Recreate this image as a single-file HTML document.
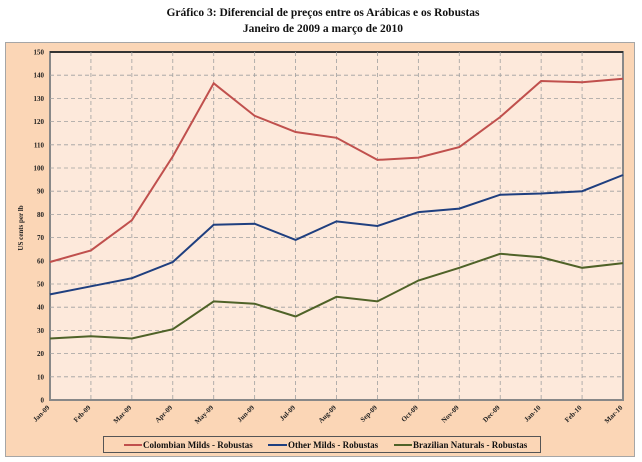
<!DOCTYPE html>
<html><head><meta charset="utf-8"><style>
html,body{margin:0;padding:0;background:#fff;}
svg{display:block;font-family:"Liberation Serif",serif;}
</style></head><body>
<svg width="642" height="462" viewBox="0 0 642 462" xmlns="http://www.w3.org/2000/svg">
<rect width="642" height="462" fill="#fff"/>
<text x="323" y="16" text-anchor="middle" font-size="11.5" font-weight="bold" fill="#111">Gráfico 3:   Diferencial de preços entre os Arábicas e os Robustas</text>
<text x="323" y="32" text-anchor="middle" font-size="11.5" font-weight="bold" fill="#111">Janeiro de 2009 a março de 2010</text>
<rect x="5.5" y="42.5" width="629" height="414" fill="#fbd6b6" stroke="#a6a6a6"/>
<rect x="50" y="52" width="573" height="348" fill="#fde9db" stroke="#888" stroke-width="2"/>
<line x1="50" y1="52" x2="623" y2="52" stroke="#000" stroke-width="1.2"/>
<g id="grid" stroke="#a0a0a0" stroke-width="0.8" stroke-dasharray="4,3"></g>
<g id="ylab" font-size="7" font-weight="bold" text-anchor="end" fill="#222"></g>
<g id="xlab" font-size="7" font-weight="bold" fill="#222"></g>
<text transform="translate(23,228) rotate(-90)" font-size="7" font-weight="bold" text-anchor="middle" fill="#222">US cents per lb</text>
<g id="series" fill="none" stroke-width="2"></g>
<rect x="103.5" y="436.5" width="437" height="16" fill="#fbd6b6" stroke="#555"/>
<line x1="124" y1="445" x2="142" y2="445" stroke="#c0504d" stroke-width="2"/>
<text x="143" y="448" font-size="9" font-weight="bold" fill="#111">Colombian Milds - Robustas</text>
<line x1="268" y1="445" x2="287" y2="445" stroke="#1f3f7f" stroke-width="2"/>
<text x="288" y="448" font-size="9" font-weight="bold" fill="#111">Other Milds - Robustas</text>
<line x1="394" y1="445" x2="412" y2="445" stroke="#4f6228" stroke-width="2"/>
<text x="413" y="448" font-size="9" font-weight="bold" fill="#111">Brazilian Naturals - Robustas</text>
</svg>
<script>
var ns="http://www.w3.org/2000/svg";
function el(t,a,p,txt){var e=document.createElementNS(ns,t);for(var k in a)e.setAttribute(k,a[k]);if(txt!=null)e.textContent=txt;document.getElementById(p).appendChild(e);}
var X=function(i){return 50+i*573/14;},Y=function(v){return 400-v*2.32;};
for(var v=0;v<=150;v+=10){if(v>0&&v<150)el("line",{x1:50,x2:623,y1:Y(v),y2:Y(v)},"grid");el("text",{x:44,y:Y(v)+2.5},"ylab",v);}
var m=["Jan-09","Feb-09","Mar-09","Apr-09","May-09","Jun-09","Jul-09","Aug-09","Sep-09","Oct-09","Nov-09","Dec-09","Jan-10","Feb-10","Mar-10"];
for(var i=0;i<15;i++){if(i>0&&i<14)el("line",{x1:X(i),x2:X(i),y1:52,y2:400},"grid");el("text",{x:X(i),y:408,transform:"rotate(-45 "+X(i)+" 408)","text-anchor":"end"},"xlab",m[i]);}
var S=[["#c0504d",[59.5,64.5,77.5,105,136.5,122.5,115.5,113,103.5,104.5,109,122,137.5,137,138.5]],
["#1f3f7f",[45.5,49,52.5,59.5,75.5,76,69,77,75,81,82.5,88.5,89,90,97]],
["#4f6228",[26.5,27.5,26.5,30.5,42.5,41.5,36,44.5,42.5,51.5,57,63,61.5,57,59]]];
S.forEach(function(s){var p=s[1].map(function(v,i){return X(i).toFixed(1)+","+Y(v).toFixed(1);}).join(" ");el("polyline",{points:p,stroke:s[0]},"series");});
</script>
</body></html>
